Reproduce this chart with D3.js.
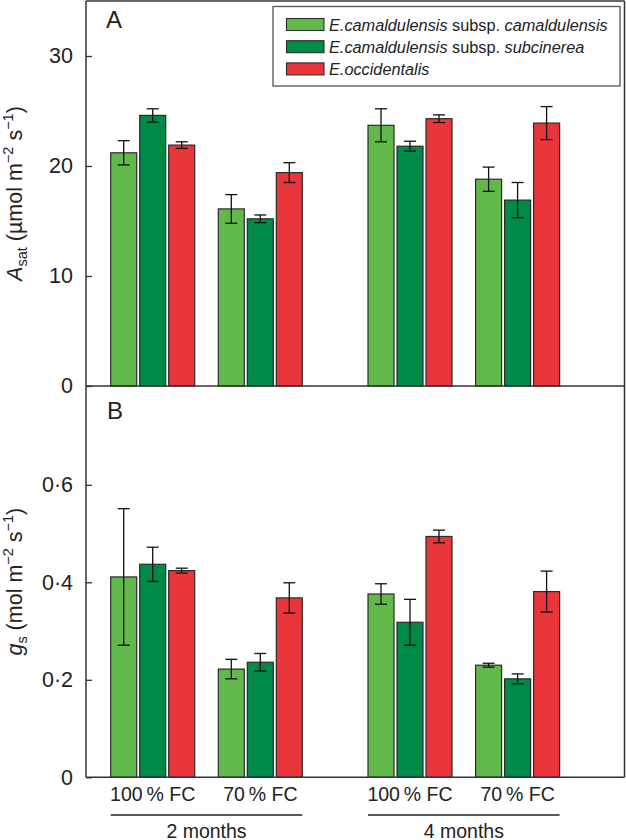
<!DOCTYPE html>
<html><head><meta charset="utf-8">
<script src="https://cdn.jsdelivr.net/npm/d3@7"></script>
<style>
html,body{margin:0;padding:0;background:#fff;}
svg{display:block;font-family:"Liberation Sans",Arial,Helvetica,sans-serif;}
</style></head>
<body><svg id="chart" width="626" height="840"></svg>
<script>
// ---------- data ----------
const months = ["2 months", "4 months"];
const treatments = ["100\u2009% FC", "70\u2009% FC"];
const species = ["camaldulensis", "subcinerea", "occidentalis"];
const speciesColors = ["#62b94b", "#008a48", "#ea353a"];

// order of conditions: [2 mo 100%, 2 mo 70%, 4 mo 100%, 4 mo 70%]
const asatCamaldulensis = [21.2, 16.1, 23.7, 18.8];
const asatSubcinerea   = [24.6, 15.2, 21.8, 16.9];
const asatOccidentalis = [21.9, 19.4, 24.3, 23.9];
const asatErrCamaldulensis = [1.1, 1.3, 1.5, 1.1];
const asatErrSubcinerea   = [0.6, 0.35, 0.45, 1.6];
const asatErrOccidentalis = [0.3, 0.9, 0.35, 1.5];

const gsCamaldulensis = [0.411, 0.222, 0.376, 0.230];
const gsSubcinerea   = [0.437, 0.236, 0.318, 0.202];
const gsOccidentalis = [0.424, 0.368, 0.494, 0.381];
const gsErrCamaldulensis = [0.140, 0.020, 0.021, 0.004];
const gsErrSubcinerea   = [0.035, 0.018, 0.047, 0.010];
const gsErrOccidentalis = [0.005, 0.031, 0.013, 0.042];

const asatTicks = [0, 10, 20, 30];
const gsTicks = [0, 0.2, 0.4, 0.6];

// ---------- build records ----------
function records(means, errs) {
  const out = [];
  months.forEach((m, mi) => treatments.forEach((t, ti) => species.forEach((s, si) => {
    const k = mi * 2 + ti;
    out.push({month: m, treatment: t, species: s, si, mean: means[si][k], err: errs[si][k]});
  })));
  return out;
}
const asatData = records([asatCamaldulensis, asatSubcinerea, asatOccidentalis],
                         [asatErrCamaldulensis, asatErrSubcinerea, asatErrOccidentalis]);
const gsData = records([gsCamaldulensis, gsSubcinerea, gsOccidentalis],
                       [gsErrCamaldulensis, gsErrSubcinerea, gsErrOccidentalis]);

// ---------- layout ----------
const svg = d3.select("#chart");
const left = 86, right = 624.5;
const xMonth = d3.scalePoint().domain(months).range([206.5, 463.8]);
const xTreat = d3.scalePoint().domain(treatments).range([-53.8, 53.8]);
const xSpec = d3.scaleBand().domain(species).range([-42, 42]).paddingInner(3 / 29);
const groupCenter = d => xMonth(d.month) + xTreat(d.treatment);
const barX = d => groupCenter(d) + xSpec(d.species);

const yA = d3.scaleLinear().domain([0, 35]).range([386, 1]);
const yB = d3.scaleLinear().domain([0, 0.8]).range([777.3, 387.3]);

const axisColor = "#333";
const fmtB = d => d === 0 ? "0" : d3.format(".1f")(d).replace(".", "\u00b7");

function panel(data, y, ticks, fmt, top, bottom) {
  const g = svg.append("g");
  g.selectAll("rect.bar").data(data).join("rect")
    .attr("class", "bar")
    .attr("x", barX)
    .attr("width", xSpec.bandwidth())
    .attr("y", d => y(d.mean))
    .attr("height", d => y(0) - y(d.mean))
    .attr("fill", d => speciesColors[d.si])
    .attr("stroke", "#2b2b2b")
    .attr("stroke-width", 1.2);
  const eb = g.selectAll("g.err").data(data).join("g").attr("class", "err")
    .attr("stroke", "#111").attr("stroke-width", 1.3);
  const cx = d => barX(d) + xSpec.bandwidth() / 2;
  eb.append("line").attr("x1", cx).attr("x2", cx)
    .attr("y1", d => y(d.mean + d.err)).attr("y2", d => y(d.mean - d.err));
  eb.append("line").attr("x1", d => cx(d) - 6).attr("x2", d => cx(d) + 6)
    .attr("y1", d => y(d.mean + d.err)).attr("y2", d => y(d.mean + d.err));
  eb.append("line").attr("x1", d => cx(d) - 6).attr("x2", d => cx(d) + 6)
    .attr("y1", d => y(d.mean - d.err)).attr("y2", d => y(d.mean - d.err));

  const ax = g.append("g").attr("transform", `translate(${left},0)`)
    .call(d3.axisLeft(y).tickValues(ticks).tickFormat(fmt).tickSize(-6).tickSizeOuter(0).tickPadding(13));
  ax.select(".domain").attr("stroke", axisColor).attr("stroke-width", 1.5)
    .attr("d", `M0,${top}V${bottom}`);
  ax.selectAll(".tick line").attr("stroke", axisColor).attr("stroke-width", 1.3);
  ax.selectAll(".tick text").attr("font-size", 21.5).attr("fill", "#222")
    .attr("font-family", "Liberation Sans, Arial, sans-serif");

  g.append("line").attr("x1", left).attr("x2", right).attr("y1", bottom).attr("y2", bottom)
    .attr("stroke", axisColor).attr("stroke-width", 1.5);
  g.append("line").attr("x1", right).attr("x2", right).attr("y1", top).attr("y2", bottom)
    .attr("stroke", axisColor).attr("stroke-width", 1.5);
  return g;
}

panel(asatData, yA, asatTicks, d3.format("d"), 1, yA(0));
panel(gsData, yB, gsTicks, fmtB, yA(0), yB(0));
svg.append("line").attr("x1", left).attr("x2", right).attr("y1", 1).attr("y2", 1)
  .attr("stroke", axisColor).attr("stroke-width", 1.5);

// panel letters
svg.append("text").attr("x", 106).attr("y", 28).attr("font-size", 24).attr("fill", "#222").text("A");
svg.append("text").attr("x", 107).attr("y", 418.5).attr("font-size", 24).attr("fill", "#222").text("B");

// y titles
function yTitle(cy, main, sub, rest) {
  const t = svg.append("text").attr("transform", `translate(22,${cy}) rotate(-90)`)
    .attr("text-anchor", "middle").attr("font-size", 21.5).attr("fill", "#222");
  t.append("tspan").attr("font-style", "italic").text(main);
  t.append("tspan").attr("font-size", 14.5).attr("dy", 5).text(sub);
  t.append("tspan").attr("dy", -5).text(rest);
  t.append("tspan").attr("font-size", 14.5).attr("dy", -9).text("\u22122");
  t.append("tspan").attr("dy", 9).text(" s");
  t.append("tspan").attr("font-size", 14.5).attr("dy", -9).text("\u22121");
  t.append("tspan").attr("dy", 9).text(")");
}
yTitle((yA(0) + 1) / 2, "A", "sat", " (\u00b5mol m");
yTitle((yA(0) + yB(0)) / 2, "g", "s", " (mol m");

// x category labels
const groups = [];
months.forEach(m => treatments.forEach(t => groups.push({month: m, treatment: t})));
svg.selectAll("text.treat").data(groups).join("text").attr("class", "treat")
  .attr("x", d => groupCenter(d)).attr("y", 800.5)
  .attr("text-anchor", "middle").attr("font-size", 19.5).attr("fill", "#222")
  .text(d => d.treatment);
months.forEach(m => {
  const x1 = xMonth(m) + xTreat(treatments[0]) + xSpec(species[0]);
  const x2 = xMonth(m) + xTreat(treatments[1]) + xSpec(species[2]) + xSpec.bandwidth();
  svg.append("line").attr("x1", x1).attr("x2", x2).attr("y1", 815).attr("y2", 815)
    .attr("stroke", "#222").attr("stroke-width", 1.3);
  svg.append("text").attr("x", xMonth(m)).attr("y", 838).attr("text-anchor", "middle")
    .attr("font-size", 19.5).attr("fill", "#222").text(m);
});

// legend
const legend = svg.append("g");
legend.append("rect").attr("x", 273).attr("y", 6.5).attr("width", 347).attr("height", 79.5)
  .attr("fill", "#fff").attr("stroke", "#555").attr("stroke-width", 1.3);
const legendLabels = [
  [["E.camaldulensis", true], [" subsp. ", false], ["camaldulensis", true]],
  [["E.camaldulensis", true], [" subsp. ", false], ["subcinerea", true]],
  [["E.occidentalis", true]]
];
species.forEach((s, i) => {
  const yy = 18.5 + i * 22.2;
  legend.append("rect").attr("x", 286.5).attr("y", yy).attr("width", 37.5).attr("height", 12)
    .attr("fill", speciesColors[i]).attr("stroke", "#2b2b2b").attr("stroke-width", 1.1);
  const t = legend.append("text").attr("x", 329).attr("y", yy + 12).attr("font-size", 16.3).attr("fill", "#222");
  legendLabels[i].forEach(([txt, it]) => {
    t.append("tspan").attr("font-style", it ? "italic" : "normal").text(txt);
  });
});
</script></body></html>
